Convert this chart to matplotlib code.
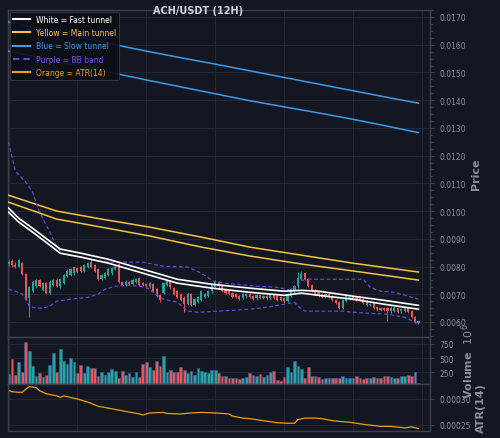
import matplotlib
matplotlib.use("Agg")
import matplotlib.pyplot as plt
from matplotlib.lines import Line2D
from matplotlib.ticker import MultipleLocator, FormatStrFormatter
import numpy as np

BG = "#131722"
GRID = "#232834"
SPINE = "#3b404c"
TXT = "#8b8f9a"
UP = "#26a69a"
DOWN = "#ef5350"

# --- candles (12H), 120 bars ---
opens = [0.00808, 0.00820, 0.00806, 0.00800, 0.00812, 0.00772, 0.00686, 0.00712, 0.00728, 0.00752,
         0.00715, 0.00740, 0.00705, 0.00735, 0.00752, 0.00728, 0.00740, 0.00765, 0.00770, 0.00775,
         0.00795, 0.00798, 0.00785, 0.00800, 0.00815, 0.00805, 0.00790, 0.00755, 0.00760, 0.00770,
         0.00775, 0.00790, 0.00808, 0.00745, 0.00735, 0.00745, 0.00738, 0.00745, 0.00758, 0.00740,
         0.00738, 0.00728, 0.00738, 0.00718, 0.00698, 0.00705, 0.00735, 0.00748, 0.00722, 0.00712,
         0.00700, 0.00688, 0.00665, 0.00700, 0.00662, 0.00672, 0.00680, 0.00690, 0.00695, 0.00710,
         0.00725, 0.00745, 0.00728, 0.00720, 0.00712, 0.00705, 0.00700, 0.00695, 0.00688, 0.00692,
         0.00702, 0.00695, 0.00685, 0.00698, 0.00688, 0.00695, 0.00685, 0.00697, 0.00695, 0.00690,
         0.00688, 0.00675, 0.00695, 0.00710, 0.00728, 0.00755, 0.00775, 0.00755, 0.00735, 0.00715,
         0.00708, 0.00700, 0.00690, 0.00700, 0.00695, 0.00680, 0.00672, 0.00652, 0.00675, 0.00682,
         0.00690, 0.00690, 0.00685, 0.00682, 0.00675, 0.00660, 0.00668, 0.00655, 0.00650, 0.00650,
         0.00650, 0.00638, 0.00640, 0.00652, 0.00638, 0.00640, 0.00652, 0.00640, 0.00618, 0.00598]
closes = [0.00816, 0.00805, 0.00800, 0.00822, 0.00772, 0.00686, 0.00725, 0.00745, 0.00752, 0.00730,
          0.00740, 0.00705, 0.00745, 0.00750, 0.00730, 0.00755, 0.00770, 0.00785, 0.00790, 0.00797,
          0.00780, 0.00785, 0.00805, 0.00812, 0.00800, 0.00785, 0.00755, 0.00768, 0.00775, 0.00790,
          0.00795, 0.00800, 0.00745, 0.00735, 0.00745, 0.00738, 0.00750, 0.00755, 0.00735, 0.00733,
          0.00728, 0.00740, 0.00712, 0.00695, 0.00678, 0.00740, 0.00748, 0.00725, 0.00700, 0.00690,
          0.00680, 0.00665, 0.00700, 0.00662, 0.00683, 0.00690, 0.00712, 0.00700, 0.00712, 0.00735,
          0.00745, 0.00728, 0.00712, 0.00705, 0.00700, 0.00690, 0.00690, 0.00683, 0.00700, 0.00702,
          0.00690, 0.00683, 0.00698, 0.00688, 0.00695, 0.00685, 0.00697, 0.00688, 0.00680, 0.00678,
          0.00675, 0.00700, 0.00718, 0.00730, 0.00760, 0.00772, 0.00755, 0.00730, 0.00712, 0.00700,
          0.00695, 0.00690, 0.00700, 0.00690, 0.00680, 0.00670, 0.00650, 0.00678, 0.00692, 0.00690,
          0.00683, 0.00678, 0.00678, 0.00670, 0.00662, 0.00665, 0.00652, 0.00645, 0.00642, 0.00642,
          0.00638, 0.00652, 0.00652, 0.00635, 0.00648, 0.00652, 0.00635, 0.00618, 0.00600, 0.00602]
highs = [0.00822, 0.00826, 0.00818, 0.00826, 0.00815, 0.00776, 0.00730, 0.00750, 0.00756, 0.00755,
         0.00744, 0.00745, 0.00750, 0.00756, 0.00757, 0.00760, 0.00774, 0.00790, 0.00794, 0.00800,
         0.00799, 0.00802, 0.00808, 0.00818, 0.00826, 0.00808, 0.00794, 0.00772, 0.00779, 0.00794,
         0.00798, 0.00808, 0.00812, 0.00749, 0.00750, 0.00749, 0.00754, 0.00760, 0.00762, 0.00744,
         0.00741, 0.00744, 0.00742, 0.00721, 0.00702, 0.00745, 0.00752, 0.00752, 0.00726, 0.00716,
         0.00704, 0.00692, 0.00704, 0.00704, 0.00688, 0.00695, 0.00716, 0.00704, 0.00716, 0.00740,
         0.00750, 0.00749, 0.00731, 0.00724, 0.00715, 0.00708, 0.00703, 0.00698, 0.00704, 0.00706,
         0.00705, 0.00698, 0.00701, 0.00701, 0.00699, 0.00698, 0.00700, 0.00700, 0.00698, 0.00693,
         0.00691, 0.00704, 0.00722, 0.00735, 0.00779, 0.00785, 0.00778, 0.00758, 0.00738, 0.00719,
         0.00711, 0.00704, 0.00704, 0.00703, 0.00698, 0.00684, 0.00675, 0.00682, 0.00697, 0.00694,
         0.00693, 0.00693, 0.00688, 0.00685, 0.00678, 0.00669, 0.00671, 0.00658, 0.00653, 0.00653,
         0.00653, 0.00656, 0.00656, 0.00655, 0.00652, 0.00656, 0.00655, 0.00643, 0.00620, 0.00605]
lows = [0.00803, 0.00800, 0.00796, 0.00797, 0.00768, 0.00680, 0.00617, 0.00708, 0.00724, 0.00726,
        0.00712, 0.00700, 0.00702, 0.00731, 0.00726, 0.00724, 0.00736, 0.00761, 0.00766, 0.00771,
        0.00776, 0.00780, 0.00781, 0.00796, 0.00796, 0.00780, 0.00750, 0.00751, 0.00756, 0.00766,
        0.00771, 0.00786, 0.00740, 0.00731, 0.00731, 0.00733, 0.00734, 0.00741, 0.00730, 0.00729,
        0.00724, 0.00724, 0.00708, 0.00690, 0.00672, 0.00700, 0.00731, 0.00720, 0.00696, 0.00686,
        0.00676, 0.00635, 0.00660, 0.00656, 0.00658, 0.00668, 0.00676, 0.00686, 0.00691, 0.00706,
        0.00721, 0.00724, 0.00708, 0.00701, 0.00696, 0.00686, 0.00686, 0.00679, 0.00684, 0.00688,
        0.00686, 0.00679, 0.00681, 0.00684, 0.00684, 0.00681, 0.00681, 0.00684, 0.00676, 0.00674,
        0.00670, 0.00672, 0.00691, 0.00706, 0.00724, 0.00750, 0.00751, 0.00726, 0.00708, 0.00696,
        0.00690, 0.00686, 0.00686, 0.00686, 0.00676, 0.00666, 0.00646, 0.00648, 0.00671, 0.00678,
        0.00679, 0.00674, 0.00674, 0.00666, 0.00658, 0.00656, 0.00648, 0.00641, 0.00638, 0.00638,
        0.00603, 0.00634, 0.00636, 0.00631, 0.00634, 0.00636, 0.00631, 0.00614, 0.00596, 0.00594]
# volume in millions
volumes = [214, 482, 196, 423, 244, 780, 619, 351, 184, 226, 167, 202, 375, 583, 256, 661, 446, 399, 494, 435,
           226, 375, 226, 363, 327, 327, 184, 256, 196, 256, 304, 268, 137, 268, 196, 232, 167, 256, 167, 399,
           423, 333, 292, 446, 363, 542, 244, 292, 256, 256, 333, 292, 232, 268, 196, 315, 274, 256, 226, 280,
           280, 226, 184, 184, 137, 137, 137, 125, 137, 155, 226, 202, 184, 214, 155, 196, 244, 262, 107, 95,
           167, 333, 244, 440, 360, 300, 137, 333, 173, 184, 160, 130, 150, 140, 150, 150, 140, 184, 140, 150,
           140, 184, 140, 130, 150, 140, 160, 150, 150, 170, 170, 160, 150, 140, 180, 180, 190, 180, 250, 53]

# --- overlay lines (bar index, value) ---
fast_idx = [0, 3, 7, 12, 15, 21, 29, 39, 49, 59, 70, 80, 85, 90, 100, 109, 119]
fast_a = [0.01011, 0.00974, 0.00938, 0.00891, 0.00863, 0.00848, 0.00826, 0.00790, 0.00754, 0.00736,
          0.00722, 0.00711, 0.00714, 0.00711, 0.00693, 0.00678, 0.00660]
fast_b = [0.00996, 0.00960, 0.00924, 0.00877, 0.00848, 0.00834, 0.00812, 0.00776, 0.00740, 0.00722,
          0.00707, 0.00696, 0.00704, 0.00696, 0.00682, 0.00664, 0.00646]
main_idx = [0, 14, 27, 41, 56, 70, 85, 100, 119]
main_a = [0.01057, 0.01000, 0.00971, 0.00942, 0.00906, 0.00870, 0.00841, 0.00812, 0.00780]
main_b = [0.01032, 0.00971, 0.00942, 0.00910, 0.00870, 0.00838, 0.00809, 0.00784, 0.00751]
slow_idx = [0, 10, 20, 30, 40, 50, 60, 70, 80, 90, 100, 110, 119]
slow_a = [0.01682, 0.01655, 0.01629, 0.01602, 0.01577, 0.01553, 0.01530, 0.01506, 0.01482, 0.01458,
          0.01434, 0.01410, 0.01389]
slow_b = [0.01577, 0.01551, 0.01525, 0.01499, 0.01473, 0.01448, 0.01423, 0.01398, 0.01376, 0.01354,
          0.01331, 0.01306, 0.01283]
bbu_idx = [0, 2, 5, 7, 9, 12, 14, 16, 21, 26, 31, 39, 45, 52, 56, 60, 66, 72, 78, 82, 84, 86, 91, 103,
           105, 108, 112, 116, 119]
bb_upper = [0.01249, 0.01144, 0.01104, 0.01068, 0.00996, 0.00924, 0.00870, 0.00844, 0.00834, 0.00819,
            0.00816, 0.00816, 0.00801, 0.00798, 0.00776, 0.00743, 0.00736, 0.00729, 0.00725, 0.00714,
            0.00739, 0.00754, 0.00754, 0.00754, 0.00725, 0.00711, 0.00707, 0.00693, 0.00682]
bbl_idx = [0, 2, 4, 5, 6, 8, 10, 12, 14, 18, 23, 26, 28, 31, 35, 40, 42, 45, 49, 52, 55, 61, 70, 75,
           80, 83, 84, 86, 91, 97, 100, 105, 110, 115, 118, 119]
bb_lower = [0.00718, 0.00711, 0.00700, 0.00682, 0.00657, 0.00650, 0.00650, 0.00657, 0.00675, 0.00682,
            0.00689, 0.00700, 0.00718, 0.00729, 0.00733, 0.00725, 0.00707, 0.00682, 0.00671, 0.00639,
            0.00635, 0.00639, 0.00646, 0.00653, 0.00664, 0.00671, 0.00657, 0.00639, 0.00639, 0.00639,
            0.00635, 0.00631, 0.00628, 0.00617, 0.00599, 0.00592]
atr_idx = [0, 1, 3, 4, 5, 6, 8, 9, 11, 14, 15, 16, 18, 20, 23, 26, 30, 34, 38, 39, 41, 45, 46, 50, 53,
           56, 60, 64, 65, 68, 70, 74, 78, 81, 83, 84, 86, 89, 91, 94, 97, 99, 103, 108, 111, 115, 117, 119]
atr = [0.000317, 0.000314, 0.000313, 0.000313, 0.000319, 0.000324, 0.000322, 0.000316, 0.000310, 0.000306,
       0.000303, 0.000306, 0.000303, 0.000300, 0.000294, 0.000286, 0.000281, 0.000276, 0.000271, 0.000269,
       0.000273, 0.000274, 0.000272, 0.000271, 0.000273, 0.000274, 0.000273, 0.000271, 0.000267, 0.000263,
       0.000262, 0.000258, 0.000254, 0.000253, 0.000253, 0.000260, 0.000263, 0.000263, 0.000262, 0.000258,
       0.000256, 0.000255, 0.000251, 0.000247, 0.000247, 0.000244, 0.000246, 0.000243]

o = np.array(opens)
c = np.array(closes)
x = np.arange(len(o))
cols = np.where(c >= o, UP, DOWN)

fig = plt.figure(figsize=(5.0, 4.39), dpi=100, facecolor=BG)
ax = fig.add_axes([0.016, 0.2301, 0.844, 0.7449])
axv = fig.add_axes([0.016, 0.1230, 0.844, 0.1071], sharex=ax)
axa = fig.add_axes([0.016, 0.0159, 0.844, 0.1071], sharex=ax)

for a in (ax, axv, axa):
    a.set_facecolor(BG)
    a.yaxis.tick_right()
    a.yaxis.set_label_position("right")
    for s in a.spines.values():
        s.set_color(SPINE)
        s.set_linewidth(1.0)
    a.grid(True, color=GRID, lw=0.7)
    a.set_axisbelow(True)
    a.tick_params(axis="y", which="both", colors=SPINE, labelcolor=TXT, labelsize=5.5, length=3, width=0.8)
    a.tick_params(axis="y", which="minor", length=2)
    a.tick_params(axis="x", which="both", length=0, labelbottom=False)
    a.set_xticks(range(0, 121, 20))

# candles
ax.vlines(x, lows, highs, colors=cols, lw=0.7, zorder=2)
ax.bar(x, np.maximum(np.abs(c - o), 0.000012), bottom=np.minimum(o, c), width=0.62,
       color=cols, lw=0, zorder=3)

# tunnels and bands
ax.plot(slow_idx, slow_a, color="#3d9be9", lw=1.1, zorder=4)
ax.plot(slow_idx, slow_b, color="#3d9be9", lw=1.1, zorder=4)
ax.plot(main_idx, main_a, color="#f6c343", lw=1.1, zorder=4)
ax.plot(main_idx, main_b, color="#f6c343", lw=1.1, zorder=4)
ax.plot(fast_idx, fast_a, color="white", lw=1.2, zorder=5)
ax.plot(fast_idx, fast_b, color="white", lw=1.2, zorder=5)
ax.plot(bbu_idx, bb_upper, color="#6a45d6", lw=0.9, ls=(0, (3, 2)), zorder=4)
ax.plot(bbl_idx, bb_lower, color="#6a45d6", lw=0.9, ls=(0, (3, 2)), zorder=4)

ax.set_xlim(-0.15, 122.35)
ax.set_ylim(0.005458, 0.017253)
ax.yaxis.set_major_locator(MultipleLocator(0.001))
ax.yaxis.set_minor_locator(MultipleLocator(0.00025))
ax.yaxis.set_major_formatter(FormatStrFormatter("%.4f"))
ax.set_ylabel("Price", color=TXT, fontsize=8, fontweight="bold", labelpad=4)

handles = [Line2D([], [], color="white", lw=1.5),
           Line2D([], [], color="#f6c343", lw=1.5),
           Line2D([], [], color="#3d9be9", lw=1.5),
           Line2D([], [], color="#6a45d6", lw=1.5, ls=(0, (3, 2))),
           Line2D([], [], color="#f39c12", lw=1.5)]
labels = ["White = Fast tunnel", "Yellow = Main tunnel", "Blue = Slow tunnel",
          "Purple = BB band", "Orange = ATR(14)"]
leg = ax.legend(handles, labels, loc="upper left", bbox_to_anchor=(0.0, 1.0), fontsize=5.5,
                facecolor="#0c0f16", edgecolor=SPINE, framealpha=0.92, borderaxespad=0.25,
                handlelength=2.2, labelspacing=0.55,
                labelcolor=["white", "#f6c343", "#3d9be9", "#7b55e6", "#f39c12"])
leg.get_frame().set_linewidth(0.6)

# volume
axv.bar(x, volumes, width=0.8, color=cols, edgecolor="#2f5d94", lw=0.5)
axv.set_ylim(36, 875)
axv.set_yticks([250, 500, 750])
axv.set_ylabel("Volume  $10^{6}$", color=TXT, fontsize=8, fontweight="bold", labelpad=4)

# ATR
axa.plot(atr_idx, atr, color="#f39c12", lw=0.9)
axa.set_ylim(0.000238, 0.000329)
axa.set_yticks([0.00025, 0.00030])
axa.yaxis.set_major_formatter(FormatStrFormatter("%.5f"))
axa.set_ylabel("ATR(14)", color=TXT, fontsize=8, fontweight="bold", labelpad=4)

fig.text(0.396, 0.975, "ACH/USDT (12H)", ha="center", va="center", fontsize=7,
         fontweight="bold", color="#d1d4dc")

fig.savefig("out.png", dpi=100, facecolor=BG)
